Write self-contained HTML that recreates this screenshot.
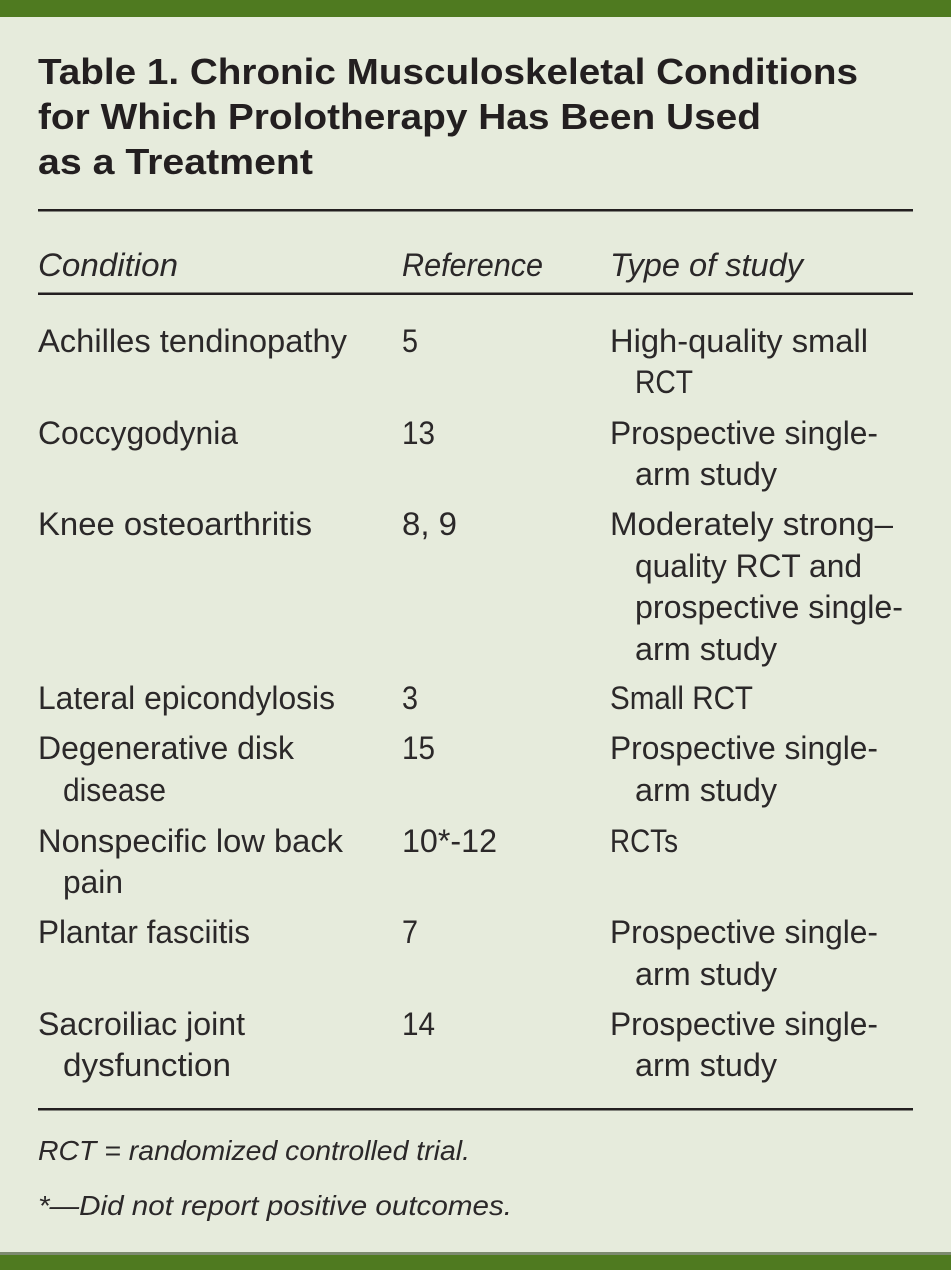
<!DOCTYPE html>
<html>
<head>
<meta charset="utf-8">
<style>
html,body{margin:0;padding:0;background:#e6ebdc;}
svg{display:block;}
text{font-family:"Liberation Sans",sans-serif;fill:#231f20;}
.t{font-weight:bold;font-size:36px;}
.b{font-size:32px;fill:#2b2829;}
.i{font-size:32px;font-style:italic;fill:#2b2829;}
.f{font-size:28px;font-style:italic;fill:#2b2829;}
</style>
</head>
<body>
<svg width="951" height="1270" viewBox="0 0 951 1270" xmlns="http://www.w3.org/2000/svg">
<rect x="0" y="0" width="951" height="1270" fill="#e6ebdc"/>
<rect x="0" y="0" width="951" height="17" fill="#4f7a20"/>
<rect x="0" y="1252" width="951" height="3" fill="#7d8a70"/>
<rect x="0" y="1255" width="951" height="15" fill="#4f7a20"/>

<text class="t" x="38" y="84" textLength="820" lengthAdjust="spacingAndGlyphs">Table 1. Chronic Musculoskeletal Conditions</text>
<text class="t" x="38" y="129" textLength="723" lengthAdjust="spacingAndGlyphs">for Which Prolotherapy Has Been Used</text>
<text class="t" x="38" y="174" textLength="275" lengthAdjust="spacingAndGlyphs">as a Treatment</text>

<rect x="38" y="209" width="875" height="2.5" fill="#231f20"/>
<rect x="38" y="292.5" width="875" height="2.5" fill="#231f20"/>
<rect x="38" y="1108" width="875" height="2.5" fill="#231f20"/>

<text class="i" x="38" y="276" textLength="140" lengthAdjust="spacingAndGlyphs">Condition</text>
<text class="i" x="402" y="276" textLength="141" lengthAdjust="spacingAndGlyphs">Reference</text>
<text class="i" x="610" y="276" textLength="193" lengthAdjust="spacingAndGlyphs">Type of study</text>

<text class="b" x="38" y="352" textLength="309" lengthAdjust="spacingAndGlyphs">Achilles tendinopathy</text>
<text class="b" x="402" y="352" textLength="16" lengthAdjust="spacingAndGlyphs">5</text>
<text class="b" x="610" y="352" textLength="258" lengthAdjust="spacingAndGlyphs">High-quality small</text>
<text class="b" x="635" y="393" textLength="58" lengthAdjust="spacingAndGlyphs">RCT</text>

<text class="b" x="38" y="444" textLength="200" lengthAdjust="spacingAndGlyphs">Coccygodynia</text>
<text class="b" x="402" y="444" textLength="33" lengthAdjust="spacingAndGlyphs">13</text>
<text class="b" x="610" y="444" textLength="268" lengthAdjust="spacingAndGlyphs">Prospective single-</text>
<text class="b" x="635" y="485" textLength="142" lengthAdjust="spacingAndGlyphs">arm study</text>

<text class="b" x="38" y="535" textLength="274" lengthAdjust="spacingAndGlyphs">Knee osteoarthritis</text>
<text class="b" x="402" y="535" textLength="55" lengthAdjust="spacingAndGlyphs">8, 9</text>
<text class="b" x="610" y="535" textLength="283" lengthAdjust="spacingAndGlyphs">Moderately strong–</text>
<text class="b" x="635" y="577" textLength="227" lengthAdjust="spacingAndGlyphs">quality RCT and</text>
<text class="b" x="635" y="618" textLength="268" lengthAdjust="spacingAndGlyphs">prospective single-</text>
<text class="b" x="635" y="660" textLength="142" lengthAdjust="spacingAndGlyphs">arm study</text>

<text class="b" x="38" y="709" textLength="297" lengthAdjust="spacingAndGlyphs">Lateral epicondylosis</text>
<text class="b" x="402" y="709" textLength="16" lengthAdjust="spacingAndGlyphs">3</text>
<text class="b" x="610" y="709" textLength="143" lengthAdjust="spacingAndGlyphs">Small RCT</text>

<text class="b" x="38" y="759" textLength="256" lengthAdjust="spacingAndGlyphs">Degenerative disk</text>
<text class="b" x="63" y="801" textLength="103" lengthAdjust="spacingAndGlyphs">disease</text>
<text class="b" x="402" y="759" textLength="33" lengthAdjust="spacingAndGlyphs">15</text>
<text class="b" x="610" y="759" textLength="268" lengthAdjust="spacingAndGlyphs">Prospective single-</text>
<text class="b" x="635" y="801" textLength="142" lengthAdjust="spacingAndGlyphs">arm study</text>

<text class="b" x="38" y="852" textLength="305" lengthAdjust="spacingAndGlyphs">Nonspecific low back</text>
<text class="b" x="63" y="893" textLength="60" lengthAdjust="spacingAndGlyphs">pain</text>
<text class="b" x="402" y="852" textLength="95" lengthAdjust="spacingAndGlyphs">10*-12</text>
<text class="b" x="610" y="852" textLength="68" lengthAdjust="spacingAndGlyphs">RCTs</text>

<text class="b" x="38" y="943" textLength="212" lengthAdjust="spacingAndGlyphs">Plantar fasciitis</text>
<text class="b" x="402" y="943" textLength="16" lengthAdjust="spacingAndGlyphs">7</text>
<text class="b" x="610" y="943" textLength="268" lengthAdjust="spacingAndGlyphs">Prospective single-</text>
<text class="b" x="635" y="985" textLength="142" lengthAdjust="spacingAndGlyphs">arm study</text>

<text class="b" x="38" y="1035" textLength="207" lengthAdjust="spacingAndGlyphs">Sacroiliac joint</text>
<text class="b" x="63" y="1076" textLength="168" lengthAdjust="spacingAndGlyphs">dysfunction</text>
<text class="b" x="402" y="1035" textLength="33" lengthAdjust="spacingAndGlyphs">14</text>
<text class="b" x="610" y="1035" textLength="268" lengthAdjust="spacingAndGlyphs">Prospective single-</text>
<text class="b" x="635" y="1076" textLength="142" lengthAdjust="spacingAndGlyphs">arm study</text>

<text class="f" x="38" y="1160" textLength="432" lengthAdjust="spacingAndGlyphs">RCT = randomized controlled trial.</text>
<text class="f" x="38" y="1215" textLength="474" lengthAdjust="spacingAndGlyphs">*—Did not report positive outcomes.</text>
</svg>
</body>
</html>
